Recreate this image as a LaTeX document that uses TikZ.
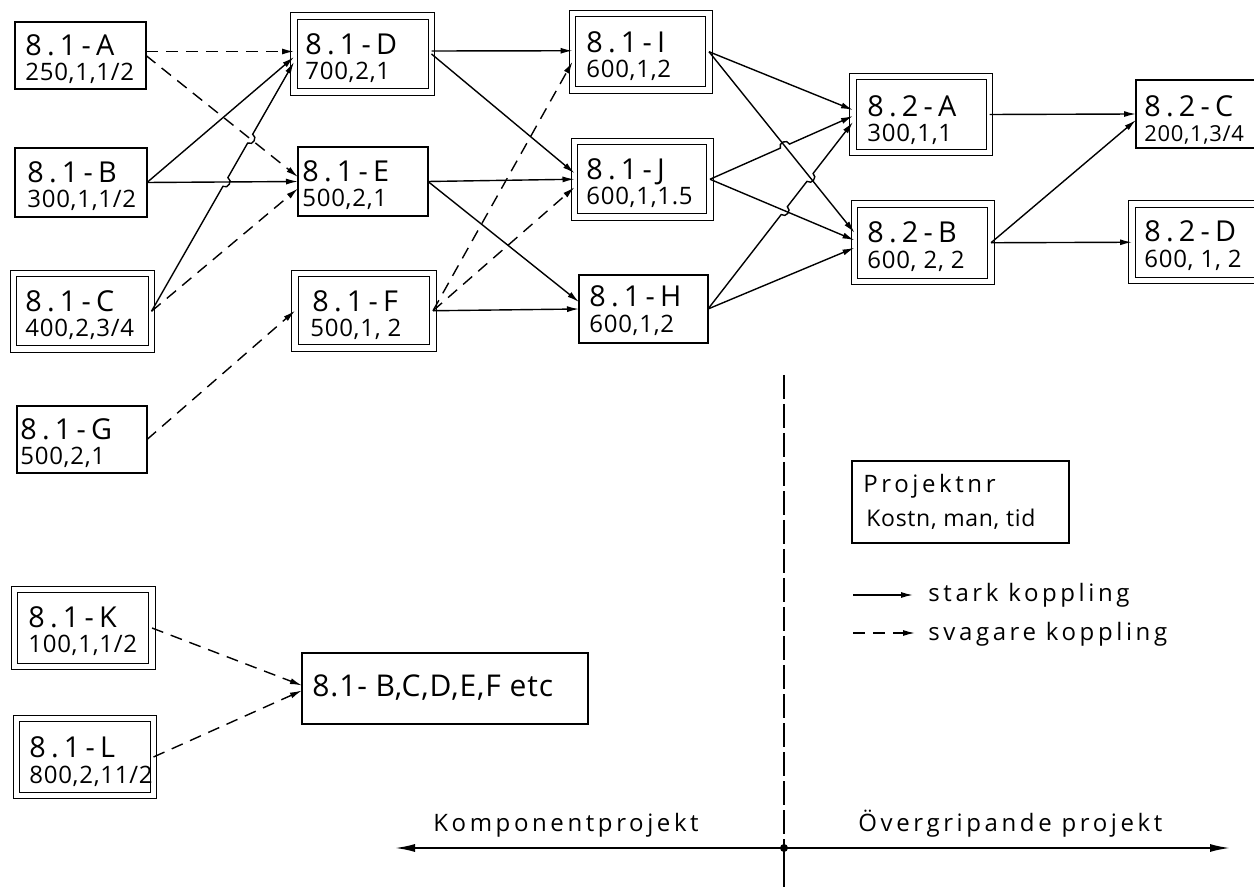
\documentclass[tikz,border=0pt]{standalone}
\usepackage{fontspec}
\setmainfont{Open Sans}
\newfontfamily\fA{Open Sans}[LetterSpace=18]
\newfontfamily\fB{Open Sans}[LetterSpace=3]
\newfontfamily\fC{Open Sans}[LetterSpace=15]
\usetikzlibrary{arrows.meta,calc,fit}
\begin{document}
\begin{tikzpicture}[x=0.5pt,y=-0.5pt,
  sbox/.style={draw, rectangle, line width=0.8pt, inner sep=0pt, outer sep=0pt},
  dbox/.style={draw, rectangle, line width=0.6pt, double, double distance=2.6pt, inner sep=0pt, outer sep=0pt},
  tA/.style={font=\fA\fontsize{14.4}{16}\selectfont, inner sep=0pt, anchor=base west},
  tB/.style={font=\fB\fontsize{12}{14}\selectfont, inner sep=0pt, anchor=base west},
  tC/.style={font=\fC\fontsize{12}{14}\selectfont, inner sep=0pt, anchor=base west},
  strong/.style={line width=0.7pt, -{Latex[length=6pt,width=3pt]}},
  weak/.style={strong, dash pattern=on 6pt off 4pt},
  axisline/.style={line width=0.9pt, -{Latex[length=10pt,width=4pt]}}]
\useasboundingbox (0,0) rectangle (1254,887);
\fill[white] (0,0) rectangle (1254,887);

% ---- column 1
\node[sbox, fit={(15,22) (146,89)}] (A) {};
\node[tA] (At) at ($(A.west)+(10,0.5)$) {8.1-A};
\node[tB] (Av) at ($(A.west)+(10,25.5)$) {250,1,1/2};

\node[sbox, fit={(15,148) (147,217)}] (B) {};
\node[tA] (Bt) at ($(B.west)+(12,0.5)$) {8.1-B};
\node[tB] (Bv) at ($(B.west)+(12,25.5)$) {300,1,1/2};

\node[dbox, fit={(13.5,273.5) (151.5,349)}] (C) {};
\node[tA] (Ct) at ($(C.west)+(11.5,0.5)$) {8.1-C};
\node[tB] (Cv) at ($(C.west)+(11.5,25.5)$) {400,2,3/4};

\node[sbox, fit={(17,406) (147,473)}] (G) {};
\node[tA] (Gt) at ($(G.west)+(3,0.5)$) {8.1-G};
\node[tB] (Gv) at ($(G.west)+(3,25.5)$) {500,2,1};

% ---- column 2
\node[dbox, fit={(294,16) (431.5,92)}] (D) {};
\node[tA] (Dt) at ($(D.west)+(11,0.5)$) {8.1-D};
\node[tB] (Dv) at ($(D.west)+(11,25.5)$) {700,2,1};

\node[sbox, fit={(298,147) (428,216)}] (E) {};
\node[tA] (Et) at ($(E.west)+(4,0.5)$) {8.1-E};
\node[tB] (Ev) at ($(E.west)+(4,25.5)$) {500,2,1};

\node[dbox, fit={(295,273.5) (433,348)}] (F) {};
\node[tA] (Ft) at ($(F.west)+(17,0.5)$) {8.1-F};
\node[tB] (Fv) at ($(F.west)+(15,25.5)$) {500,1, 2};

% ---- column 3
\node[dbox, fit={(572.5,13.5) (709,90)}] (I) {};
\node[tA] (It) at ($(I.west)+(13.5,0.5)$) {8.1-I};
\node[tB] (Iv) at ($(I.west)+(13.5,25.5)$) {600,1,2};

\node[dbox, fit={(574.5,141.5) (710,217)}] (J) {};
\node[tA] (Jt) at ($(J.west)+(11.5,0.5)$) {8.1-J};
\node[tB] (Jv) at ($(J.west)+(11.5,25.5)$) {600,1,1.5};

\node[sbox, fit={(579,275) (708,343)}] (H) {};
\node[tA] (Ht) at ($(H.west)+(10,-2)$) {8.1-H};
\node[tB] (Hv) at ($(H.west)+(10,23.5)$) {600,1,2};

% ---- column 4
\node[dbox, fit={(853,76.5) (989.5,152.5)}] (A2) {};
\node[tA] (A2t) at ($(A2.west)+(14,2.5)$) {8.2-A};
\node[tB] (A2v) at ($(A2.west)+(14,27)$) {300,1,1};

\node[dbox, fit={(854.5,204) (991,281.5)}] (B2) {};
\node[tA] (B2t) at ($(B2.west)+(12.5,0)$) {8.2-B};
\node[tB] (B2v) at ($(B2.west)+(12.5,25.5)$) {600, 2, 2};

% ---- column 5 (cut by the page edge)
\node[sbox, fit={(1136,80) (1275,148)}] (C2) {};
\node[tA] (C2t) at ($(C2.west)+(8,3)$) {8.2-C};
\node[tB, font=\fB\fontsize{11}{13}\selectfont] (C2v) at ($(C2.west)+(8,28)$) {200,1,3/4};

\node[dbox, fit={(1132,204) (1280,280.5)}] (D2) {};
\node[tA] (D2t) at ($(D2.west)+(12,-1)$) {8.2-D};
\node[tB] (D2v) at ($(D2.west)+(12,25.5)$) {600, 1, 2};

% ---- lower left
\node[dbox, fit={(14.5,589.5) (152,666.5)}] (K) {};
\node[tA] (Kt) at ($(K.west)+(13.5,0)$) {8.1-K};
\node[tB] (Kv) at ($(K.west)+(13.5,25)$) {100,1,1/2};

\node[dbox, fit={(16.5,718.5) (153.5,795.5)}] (L) {};
\node[tA] (Lt) at ($(L.west)+(12.5,0)$) {8.1-L};
\node[tB] (Lv) at ($(L.west)+(12.5,26)$) {800,2,11/2};

\node[sbox, fit={(302,653) (588,724)}] (T) {};
\node[tB, font=\fB\fontsize{15}{17}\selectfont] (Tt) at ($(T.west)+(10,8.5)$) {8.1- B,C,D,E,F etc};

% ---- legend
\node[sbox, fit={(852,461) (1069,543)}] (Leg) {};
\node[tC] (Legt) at ($(Leg.west)+(11,-9)$) {Projektnr};
\node[tB, font=\fB\fontsize{11.5}{13}\selectfont] (Legv) at ($(Leg.west)+(14,25)$) {Kostn, man, tid};

\coordinate (s0) at (853,595);
\coordinate (s1) at (913,595);
\draw[strong] (s0) -- (s1);
\node[tC] (st) at (928,602) {stark koppling};
\coordinate (w0) at (853,633);
\coordinate (w1) at (915,633);
\draw[weak] (w0) -- (w1);
\node[tC] (wt) at (928,640) {svagare koppling};

% ---- connectors, left part
\draw[weak] ($(A.east)+(0,-4)$) -- ($(D.west)+(0,-2.5)$);
\draw[weak] (A.east) -- ($(E.west)+(0,-4.5)$);
\draw[strong] (B.east) -- ($(D.west)+(0,3)$);
\draw[strong] (B.east) -- (E.west);
\draw[weak] (C.east) -- ($(E.west)+(0,7)$);
\draw[weak] (G.east) -- (F.west);

\coordinate (cdS) at (C.east);
\coordinate (cdE) at ($(D.west)+(0,8)$);
\coordinate (h1a) at ($(cdS)!0.501!(cdE)$);
\coordinate (h1b) at ($(cdS)!0.536!(cdE)$);
\coordinate (h2a) at ($(cdS)!0.675!(cdE)$);
\coordinate (h2b) at ($(cdS)!0.710!(cdE)$);
\draw[strong] (cdS) -- (h1a)
  .. controls ($(h1a)!3pt!-90:(h1b)$) and ($(h1b)!3pt!90:(h1a)$) .. (h1b)
  -- (h2a)
  .. controls ($(h2a)!3pt!-90:(h2b)$) and ($(h2b)!3pt!90:(h2a)$) .. (h2b)
  -- (cdE);

% ---- connectors, middle part
\draw[strong] ($(D.east)+(0,-3)$) -- ($(I.west)+(0,-1)$);
\draw[strong] (D.east) -- ($(J.west)+(0,-6)$);
\draw[strong] (E.east) -- (J.west);
\draw[strong] (E.east) -- ($(H.west)+(0,-7)$);
\draw[strong] (F.east) -- (H.west);
\draw[weak] (F.east) -- ($(I.west)+(0,10)$);
\draw[weak] (F.east) -- ($(J.west)+(0,8)$);

% ---- connectors, right part
\draw[strong] (I.east) -- ($(A2.west)+(0,-4.5)$);
\draw[strong] (I.east) -- ($(B2.west)+(0,-10)$);
\draw[strong] (J.east) -- ($(B2.west)+(0,-2.5)$);
\draw[strong] (H.east) -- ($(B2.west)+(0,5)$);

\coordinate (jaS) at (J.east);
\coordinate (jaE) at ($(A2.west)+(0,1.5)$);
\coordinate (h3a) at ($(jaS)!0.492!(jaE)$);
\coordinate (h3b) at ($(jaS)!0.556!(jaE)$);
\draw[strong] (jaS) -- (h3a)
  .. controls ($(h3a)!3pt!90:(h3b)$) and ($(h3b)!3pt!-90:(h3a)$) .. (h3b)
  -- (jaE);

\coordinate (haS) at (H.east);
\coordinate (haE) at ($(A2.west)+(0,7.5)$);
\coordinate (h4a) at ($(haS)!0.505!(haE)$);
\coordinate (h4b) at ($(haS)!0.547!(haE)$);
\coordinate (h5a) at ($(haS)!0.6825!(haE)$);
\coordinate (h5b) at ($(haS)!0.7247!(haE)$);
\draw[strong] (haS) -- (h4a)
  .. controls ($(h4a)!3pt!-90:(h4b)$) and ($(h4b)!3pt!90:(h4a)$) .. (h4b)
  -- (h5a)
  .. controls ($(h5a)!3pt!-90:(h5b)$) and ($(h5b)!3pt!90:(h5a)$) .. (h5b)
  -- (haE);

\draw[strong] (A2.east) -- (C2.west);
\draw[strong] (B2.east) -- ($(C2.west)+(0,6)$);
\draw[strong] (B2.east) -- (D2.west);

% ---- lower connectors
\draw[weak] (K.east) -- ($(T.west)+(0,-3)$);
\draw[weak] (L.east) -- ($(T.west)+(0,2)$);

% ---- axes
\coordinate (O) at (784,848);
\coordinate (axL) at (395,848);
\coordinate (axR) at (1230,848);
\coordinate (Vt) at (784,375);
\coordinate (Vb) at (784,887);
\draw[line width=0.7pt, dash pattern=on 12pt off 2.5pt] (Vt) -- (O);
\draw[line width=0.7pt] (O) -- (Vb);
\draw[axisline] (O) -- (axL);
\draw[axisline] (O) -- (axR);
\fill (O) circle (2pt);
\node[tC] (kp) at (433,831) {Komponentprojekt};
\node[tC] (op) at (858,831) {Övergripande projekt};
\end{tikzpicture}
\end{document}
